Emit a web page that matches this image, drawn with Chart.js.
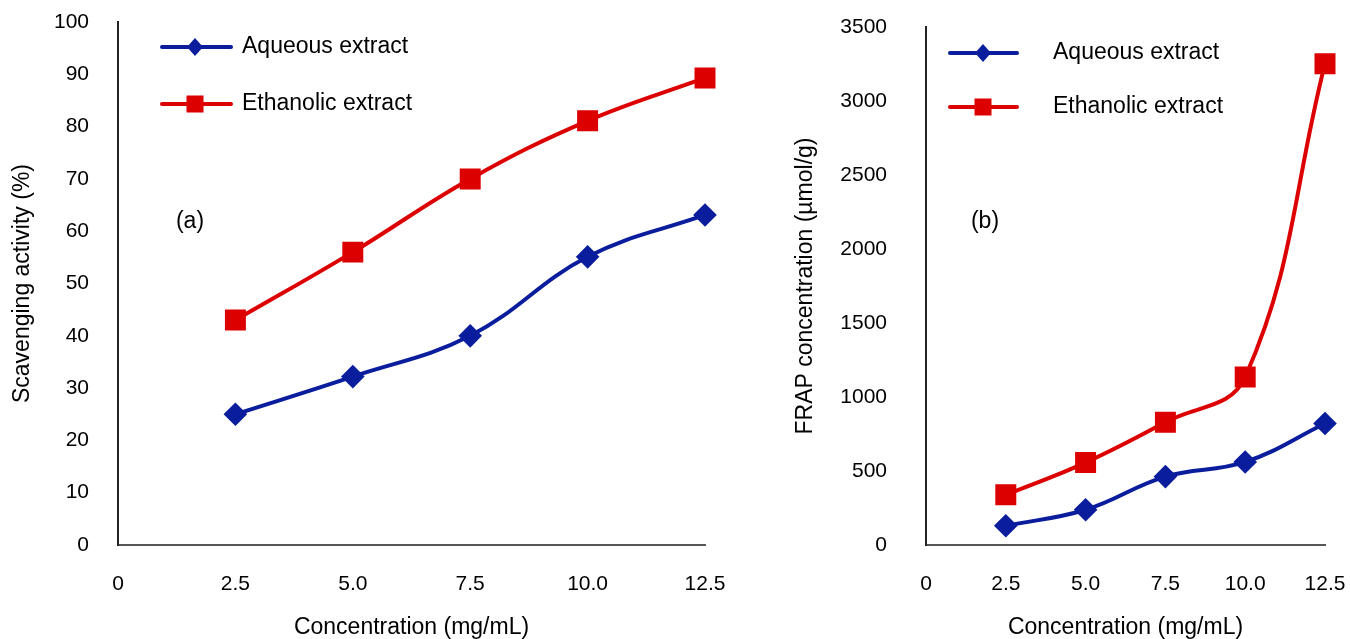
<!DOCTYPE html>
<html>
<head>
<meta charset="utf-8">
<script src="https://cdn.jsdelivr.net/npm/chart.js@4"></script>
<style>
  body { margin: 0; background: #fff; }
  #wrap { position: relative; width: 1350px; height: 639px; }
  canvas { position: absolute; top: 0; }
</style>
</head>
<body>
<div id="wrap">
  <canvas id="chartA" width="760" height="639" style="left:0"></canvas>
  <canvas id="chartB" width="590" height="639" style="left:760px"></canvas>
</div>
<script>
// concentrations (mg/mL)
const concentrations = [2.5, 5.0, 7.5, 10.0, 12.5];
const xTickValues = [0, 2.5, 5.0, 7.5, 10.0, 12.5];
const xTickLabels = ['0', '2.5', '5.0', '7.5', '10.0', '12.5'];

// (a) scavenging activity (%)
const scavAqueous = [25.0, 32.2, 40.0, 55.1, 63.1];
const scavEthanolic = [43.0, 56.0, 70.0, 81.1, 89.3];
const scavTicks = [0, 10, 20, 30, 40, 50, 60, 70, 80, 90, 100];

// (b) FRAP concentration (umol/g)
const frapAqueous = [130, 238, 462, 561, 821];
const frapEthanolic = [339, 557, 830, 1135, 3252];
const frapTicks = [0, 500, 1000, 1500, 2000, 2500, 3000, 3500];

const seriesNames = ['Aqueous extract', 'Ethanolic extract'];
const blue = '#0a1d9c';
const red = '#dc0000';
const font = 'Liberation Sans, Arial, sans-serif';

function toPoints(ys) {
  return concentrations.map((x, i) => ({ x: x, y: ys[i] }));
}

function makeDatasets(aq, eth) {
  return [
    { label: seriesNames[0], data: toPoints(aq), borderColor: blue, backgroundColor: blue,
      pointStyle: 'rectRot', pointRadius: 9, borderWidth: 4, tension: 0.4, clip: false },
    { label: seriesNames[1], data: toPoints(eth), borderColor: red, backgroundColor: red,
      pointStyle: 'rect', pointRadius: 12, borderWidth: 4, tension: 0.4, clip: false }
  ];
}

// legend inside the plot + panel letter
const panelDeco = {
  id: 'panelDeco',
  afterDraw(chart, args, o) {
    const ctx = chart.ctx;
    ctx.save();
    chart.data.datasets.forEach((ds, i) => {
      const y = o.rows[i];
      ctx.strokeStyle = ds.borderColor;
      ctx.lineWidth = 4;
      ctx.lineCap = 'round';
      ctx.beginPath();
      ctx.moveTo(o.lineX0, y);
      ctx.lineTo(o.lineX1, y);
      ctx.stroke();
      ctx.fillStyle = ds.backgroundColor;
      const mx = o.markX;
      ctx.beginPath();
      if (ds.pointStyle === 'rectRot') {
        ctx.moveTo(mx, y - 9); ctx.lineTo(mx + 8, y); ctx.lineTo(mx, y + 9); ctx.lineTo(mx - 8, y);
      } else {
        ctx.rect(mx - 8.5, y - 8.5, 17, 17);
      }
      ctx.closePath();
      ctx.fill();
      ctx.fillStyle = '#000';
      ctx.font = '23px ' + font;
      ctx.textBaseline = 'middle';
      ctx.textAlign = 'left';
      ctx.fillText(ds.label, o.textX, y);
    });
    ctx.font = '23px ' + font;
    ctx.textAlign = 'center';
    ctx.textBaseline = 'middle';
    ctx.fillStyle = '#000';
    ctx.fillText(o.tag, o.tagX, o.tagY);
    ctx.restore();
  }
};

function makeChart(id, cfg) {
  return new Chart(document.getElementById(id), {
    type: 'line',
    data: { datasets: makeDatasets(cfg.aq, cfg.eth) },
    plugins: [panelDeco],
    options: {
      responsive: false,
      animation: false,
      layout: { padding: { top: cfg.top, right: cfg.right, bottom: 0, left: 0 } },
      plugins: {
        legend: { display: false },
        tooltip: { enabled: false },
        panelDeco: cfg.deco
      },
      scales: {
        x: {
          type: 'linear', min: 0, max: 12.5,
          afterBuildTicks: s => { s.ticks = xTickValues.map(v => ({ value: v })); },
          afterFit: s => { s.height = 94; },
          grid: { display: false, drawTicks: true, tickLength: 27 },
          border: { color: '#555', width: 2 },
          ticks: {
            padding: 0, color: '#000', font: { family: font, size: 21 },
            callback: v => xTickLabels[xTickValues.indexOf(v)]
          },
          title: { display: true, text: 'Concentration (mg/mL)', color: '#000',
                   font: { family: font, size: 23 }, padding: { top: 0, bottom: -2 } }
        },
        y: {
          min: 0, max: cfg.yTicks[cfg.yTicks.length - 1],
          afterBuildTicks: s => { s.ticks = cfg.yTicks.map(v => ({ value: v })); },
          afterFit: s => { s.width = cfg.yWidth; },
          grid: { display: false, drawTicks: true, tickLength: cfg.yPad },
          border: { color: '#222', width: 2 },
          ticks: { padding: 0, color: '#000', font: { family: font, size: 21 },
                   callback: v => String(v) },
          title: { display: true, text: cfg.yTitle, color: '#000',
                   font: { family: font, size: 23 }, padding: { top: cfg.yTitlePad, bottom: 0 } }
        }
      }
    }
  });
}

makeChart('chartA', {
  aq: scavAqueous, eth: scavEthanolic, yTicks: scavTicks,
  top: 22, right: 55, yWidth: 118, yPad: 29, yTitlePad: 9,
  yTitle: 'Scavenging activity (%)',
  deco: { rows: [47, 104], lineX0: 162, lineX1: 231, markX: 195, textX: 242, tag: '(a)', tagX: 190, tagY: 222 }
});

makeChart('chartB', {
  aq: frapAqueous, eth: frapEthanolic, yTicks: frapTicks,
  top: 27, right: 25, yWidth: 166, yPad: 39, yTitlePad: 32,
  yTitle: 'FRAP concentration (µmol/g)',
  deco: { rows: [53, 107], lineX0: 190, lineX1: 257, markX: 223, textX: 293, tag: '(b)', tagX: 225, tagY: 222 }
});
</script>
</body>
</html>
